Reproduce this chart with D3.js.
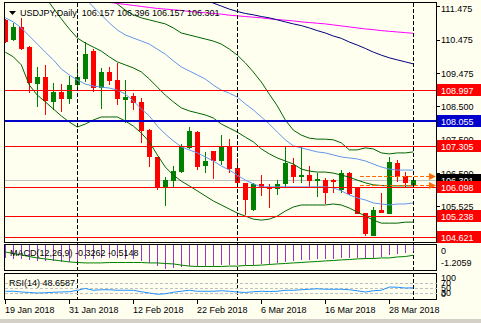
<!DOCTYPE html>
<html><head><meta charset="utf-8">
<script src="https://cdn.jsdelivr.net/npm/d3@7/dist/d3.min.js"></script>
<style>
body{margin:0;background:#FFFFF0;}
svg{display:block;font-family:"Liberation Sans",Arial,sans-serif;font-size:9px;}
</style>
</head><body>
<svg id="c" width="481" height="323"></svg>
<script>
// ---------- DATA ----------
const dates = ["2018-01-19","2018-01-22","2018-01-23","2018-01-24","2018-01-25","2018-01-26","2018-01-29","2018-01-30","2018-01-31","2018-02-01","2018-02-02","2018-02-05","2018-02-06","2018-02-07","2018-02-08","2018-02-09","2018-02-12","2018-02-13","2018-02-14","2018-02-15","2018-02-16","2018-02-19","2018-02-20","2018-02-21","2018-02-22","2018-02-23","2018-02-26","2018-02-27","2018-02-28","2018-03-01","2018-03-02","2018-03-05","2018-03-06","2018-03-07","2018-03-08","2018-03-09","2018-03-12","2018-03-13","2018-03-14","2018-03-15","2018-03-16","2018-03-19","2018-03-20","2018-03-21","2018-03-22","2018-03-23","2018-03-26","2018-03-27","2018-03-28","2018-03-29","2018-03-30","2018-04-02"];
const open  = [111.066,110.471,110.848,110.271,109.161,109.360,108.634,108.914,108.715,109.131,109.301,110.152,109.033,109.527,109.280,108.685,108.804,108.634,107.792,106.979,106.087,106.283,106.533,107.247,107.732,106.729,107.167,106.869,107.316,106.652,106.206,105.411,106.185,106.105,106.036,106.185,106.750,106.402,106.453,106.283,106.304,106.304,106.006,106.503,106.087,105.313,104.637,105.411,105.292,106.801,106.423,106.157];
const high  = [111.096,110.985,111.116,110.290,109.676,109.726,109.182,109.161,109.399,109.726,110.420,110.194,109.628,109.676,109.777,109.280,108.884,108.735,107.810,106.990,106.402,106.720,107.375,107.890,107.762,107.146,107.170,107.643,107.524,106.950,106.210,106.224,106.444,106.185,106.304,107.295,106.950,107.277,106.720,106.503,106.372,106.325,106.602,106.551,106.090,105.320,105.509,105.908,106.979,106.899,106.533,106.396];
const low   = [110.381,110.450,110.173,108.902,108.468,108.238,108.387,108.337,108.566,109.033,109.229,108.932,108.408,109.131,108.536,108.009,108.387,107.396,106.700,106.006,105.539,106.087,106.520,107.240,106.602,106.503,106.334,106.750,106.503,106.105,105.262,105.390,105.828,105.462,105.857,106.105,106.206,106.206,106.057,105.789,105.590,105.908,105.908,105.857,105.290,104.637,104.630,105.310,105.290,106.253,106.105,106.157];
const close = [110.420,110.866,110.194,109.182,109.360,108.664,108.914,108.715,109.131,109.360,110.054,109.033,109.527,109.259,108.706,108.765,108.604,107.771,106.979,106.075,106.304,106.572,107.316,107.762,106.700,106.869,106.869,107.316,106.631,106.206,105.709,106.185,106.087,106.045,106.185,106.801,106.402,106.453,106.274,106.342,105.926,106.253,106.503,105.887,105.292,104.697,105.411,105.313,106.849,106.402,106.224,106.301];

// Bollinger bands (dark green: middle, +-2 sd ; blue: +-1 sd)
const bbMid = [null,null,null,null,null,111.75,111.42,111.10,110.80,110.53,110.38,110.26,110.14,109.97,109.82,109.73,109.64,109.52,109.31,109.07,108.83,108.63,108.45,108.36,108.30,108.24,108.15,107.97,107.85,107.73,107.58,107.44,107.23,107.08,106.96,106.87,106.78,106.63,106.57,106.54,106.54,106.51,106.45,106.39,106.30,106.22,106.16,106.14,106.13,106.13,106.13,106.13];
const bbUp2 = [null,null,null,null,null,null,null,null,null,null,null,null,null,111.72,111.54,111.36,111.22,111.13,111.07,111.01,110.95,110.83,110.68,110.62,110.56,110.50,110.44,110.35,110.20,110.02,109.79,109.52,109.22,108.86,108.51,108.09,107.79,107.64,107.55,107.52,107.52,107.50,107.41,107.20,107.20,107.26,107.23,107.11,107.08,107.11,107.11,107.14];
const bbUp1 = [null,null,null,null,null,null,null,null,null,null,111.72,111.45,111.22,110.98,110.77,110.62,110.53,110.44,110.35,110.20,110.05,109.85,109.67,109.55,109.43,109.31,109.13,108.98,108.89,108.77,108.57,108.39,108.18,107.97,107.73,107.50,107.32,107.26,107.20,107.14,107.11,107.05,106.99,106.96,106.93,106.87,106.78,106.69,106.63,106.60,106.60,106.60];
const bbLo1 = [111.13,111.01,110.83,110.59,110.35,110.11,109.88,109.61,109.43,109.28,109.16,109.10,109.07,109.04,108.98,108.86,108.66,108.42,108.21,107.91,107.67,107.47,107.29,107.20,107.11,106.99,106.87,106.72,106.60,106.45,106.30,106.19,106.10,106.10,106.10,106.10,106.10,106.10,106.10,106.10,106.10,106.07,105.98,105.86,105.77,105.71,105.62,105.59,105.56,105.59,105.59,105.62];
const bbLo2 = [110.11,109.97,109.73,109.13,108.83,108.63,108.42,108.21,108.03,107.88,107.97,108.09,108.18,108.18,108.18,108.06,107.91,107.70,107.44,107.05,106.69,106.45,106.27,106.13,105.98,105.83,105.68,105.56,105.44,105.32,105.23,105.14,105.11,105.14,105.23,105.38,105.50,105.56,105.56,105.56,105.56,105.59,105.56,105.47,105.35,105.23,105.11,105.02,105.02,105.02,105.05,105.05];
// long moving averages (magenta, navy)
const maMagenta = [null,null,null,null,null,null,null,null,null,null,null,null,null,111.59,111.56,111.53,111.50,111.47,111.44,111.41,111.39,111.37,111.35,111.32,111.30,111.28,111.26,111.24,111.21,111.19,111.17,111.15,111.13,111.10,111.08,111.06,111.04,111.01,110.99,110.97,110.95,110.92,110.89,110.86,110.83,110.80,110.78,110.75,110.73,110.71,110.69,110.67];
const maNavy = [null,null,null,null,null,null,null,null,null,null,null,null,null,null,null,null,null,null,null,null,null,null,null,null,null,111.66,111.57,111.48,111.39,111.32,111.26,111.22,111.17,111.13,111.07,111.01,110.95,110.90,110.83,110.75,110.68,110.59,110.52,110.41,110.32,110.22,110.11,110.02,109.94,109.88,109.82,109.76];

// horizontal levels
const redLevels = [108.997,107.305,106.098,105.238,104.621];
const blueLevels = [108.055];
const currentPrice = 106.301;
const orangeLevels = [106.42,106.15];

// price axis tick labels
const priceTicks = [111.475,110.475,109.475,108.500,107.500,106.500,105.525,104.525];

// MACD
const macdMain = [-0.65,-0.70,-0.72,-0.75,-0.78,-0.80,-0.82,-0.85,-0.85,-0.80,-0.70,-0.70,-0.66,-0.65,-0.66,-0.68,-0.70,-0.78,-0.92,-1.08,-1.2059,-1.18,-1.12,-1.06,-1.05,-1.04,-1.04,-1.02,-1.00,-1.00,-1.02,-1.00,-0.96,-0.94,-0.90,-0.84,-0.80,-0.76,-0.74,-0.72,-0.72,-0.70,-0.65,-0.63,-0.64,-0.68,-0.64,-0.60,-0.52,-0.46,-0.40,-0.3262];
const macdSignal = [-0.35,-0.43,-0.50,-0.58,-0.65,-0.70,-0.75,-0.80,-0.85,-0.88,-0.90,-0.90,-0.90,-0.88,-0.88,-0.88,-0.88,-0.88,-0.90,-0.90,-0.93,-0.95,-1.01,-1.06,-1.08,-1.08,-1.08,-1.08,-1.06,-1.06,-1.03,-1.03,-1.01,-0.98,-0.95,-0.93,-0.90,-0.88,-0.85,-0.83,-0.80,-0.78,-0.75,-0.73,-0.70,-0.68,-0.68,-0.65,-0.65,-0.60,-0.58,-0.5148];
const macdTicks = [0,-1.2059];

// RSI
const rsi = [35,35,32,30,28,29,31,32,33,39,46,39,41,41,39,39,39,33,28,23,25,31,35,39,35,35,35,37,35,32,30,33,35,34,35,39,39,41,43,45,43,43,43,41,37,32,37,39,52,51,48,48.6587];
const rsiLevels = [70,50,30];
const rsiTicks = [100,70,50,30,0];

// x axis labels
const xTickIdx = [0,8,16,24,32,40,48];
const xTickLabels = ["19 Jan 2018","31 Jan 2018","12 Feb 2018","22 Feb 2018","6 Mar 2018","16 Mar 2018","28 Mar 2018"];

// ---------- DRAW ----------
const W = 481, H = 323;
const PL = 5, PR = 437;
const svg = d3.select("#c");
svg.append("rect").attr("width",W).attr("height",H).attr("fill","#FFFFF0");

const x = d3.scaleLinear().domain([0,51]).range([5.3,413.3]);
const y = d3.scaleLinear().domain([104.429,111.572]).range([243,3]);
const yM = d3.scaleLinear().domain([-1.2059,0]).range([269,245]);
const yR = d3.scaleLinear().domain([0,100]).range([300,275]);
const cx = i => Math.round(x(i));

const defs = svg.append("defs");
defs.append("clipPath").attr("id","mainClip").append("rect").attr("x",PL).attr("y",3).attr("width",PR-PL).attr("height",239);
defs.append("clipPath").attr("id","macdClip").append("rect").attr("x",PL).attr("y",245).attr("width",PR-PL).attr("height",25);
defs.append("clipPath").attr("id","rsiClip").append("rect").attr("x",PL).attr("y",274).attr("width",PR-PL).attr("height",25);

const main = svg.append("g").attr("clip-path","url(#mainClip)");

// current price line (background)
main.append("line").attr("x1",PL).attr("x2",PR).attr("y1",Math.round(y(currentPrice))+0.5).attr("y2",Math.round(y(currentPrice))+0.5)
  .attr("stroke","#C0C0C0").attr("stroke-width",1);

// period separators (first bar of each month)
const sepIdx = dates.map((d,i)=>i).filter(i=>i>0 && dates[i].slice(5,7)!==dates[i-1].slice(5,7));
svg.append("g").selectAll("line").data(sepIdx).join("line")
  .attr("x1",i=>cx(i)+0.5).attr("x2",i=>cx(i)+0.5).attr("y1",3).attr("y2",300)
  .attr("stroke","#000").attr("stroke-width",1).attr("stroke-dasharray","4,2");

// candles
const candles = main.append("g").attr("shape-rendering","crispEdges");
d3.range(dates.length).forEach(i=>{
  const up = close[i] >= open[i];
  const col = up ? "#008000" : "#FF0000";
  const c = cx(i);
  const yh = Math.round(y(high[i])), yl = Math.round(y(low[i]));
  candles.append("rect").attr("x",c).attr("y",yh).attr("width",1).attr("height",Math.max(1,yl-yh)).attr("fill",col);
  const yt = Math.round(y(Math.max(open[i],close[i]))), yb = Math.round(y(Math.min(open[i],close[i])));
  candles.append("rect").attr("x",c-2).attr("y",yt).attr("width",5).attr("height",Math.max(1,yb-yt)).attr("fill",col);
});

// indicator lines
const line = d3.line().defined(d=>d!=null).x((d,i)=>x(i)).y(d=>y(d));
const series = [
  {d:bbUp1,c:"#6495ED"},{d:bbLo1,c:"#6495ED"},
  {d:bbMid,c:"#006400"},{d:bbUp2,c:"#006400"},{d:bbLo2,c:"#006400"},
  {d:maMagenta,c:"#FF00FF"},{d:maNavy,c:"#000080"}
];
series.forEach(s=>{
  main.append("path").attr("d",line(s.d)).attr("fill","none").attr("stroke",s.c).attr("stroke-width",1);
});

// horizontal levels
main.selectAll(".rl").data(redLevels).join("line").attr("class","rl")
  .attr("x1",PL).attr("x2",PR).attr("y1",d=>Math.round(y(d))+0.5).attr("y2",d=>Math.round(y(d))+0.5)
  .attr("stroke","#FF0000").attr("stroke-width",1);
main.selectAll(".bl").data(blueLevels).join("line").attr("class","bl")
  .attr("x1",PL).attr("x2",PR).attr("y1",d=>Math.round(y(d))).attr("y2",d=>Math.round(y(d)))
  .attr("stroke","#0000CD").attr("stroke-width",2);

// orange dashed arrows
const og = main.append("g");
orangeLevels.forEach(v=>{
  const yy = Math.round(y(v))+0.5;
  og.append("line").attr("x1",360).attr("x2",430).attr("y1",yy).attr("y2",yy)
    .attr("stroke","#FF6A00").attr("stroke-width",1).attr("stroke-dasharray","4,2");
  og.append("path").attr("d",`M429,${yy-3.5}L436,${yy}L429,${yy+3.5}Z`).attr("fill","#FF6A00");
});

// panel frames
const frame = svg.append("g").attr("fill","none").attr("stroke","#000").attr("shape-rendering","crispEdges");
frame.append("rect").attr("x",4.5).attr("y",2.5).attr("width",432).attr("height",240);
frame.append("rect").attr("x",4.5).attr("y",244.5).attr("width",432).attr("height",26);
frame.append("rect").attr("x",4.5).attr("y",273.5).attr("width",432).attr("height",26);

// price axis labels
const ax = svg.append("g");
ax.selectAll("line").data(priceTicks).join("line")
  .attr("x1",437).attr("x2",440).attr("y1",d=>Math.round(y(d))+0.5).attr("y2",d=>Math.round(y(d))+0.5).attr("stroke","#000");
ax.selectAll("text").data(priceTicks).join("text")
  .attr("x",441).attr("y",d=>Math.max(12, y(d)+3.5)).attr("fill","#000").text(d=>d.toFixed(3));

// level boxes
const box = (v,fill)=>{
  const yy = Math.round(y(v));
  svg.append("rect").attr("x",437).attr("y",yy-6).attr("width",44).attr("height",12).attr("fill",fill);
  svg.append("text").attr("x",441).attr("y",yy+3.5).attr("fill","#fff").text(v.toFixed(3));
};
box(currentPrice,"#000");
blueLevels.forEach(v=>box(v,"#0000CD"));
redLevels.forEach(v=>box(v,"#FF0000"));

// title
svg.append("path").attr("d","M9,11L16,11L12.5,15Z").attr("fill","#000");
svg.append("text").attr("x",20).attr("y",16).attr("fill","#000").style("white-space","pre")
  .text("USDJPY,Daily  "+[open[51],high[51],low[51],close[51]].map(v=>v.toFixed(3)).join(" "));

// MACD panel
const mg = svg.append("g").attr("clip-path","url(#macdClip)");
mg.append("g").attr("shape-rendering","crispEdges").selectAll("rect").data(macdMain).join("rect")
  .attr("x",(d,i)=>cx(i)).attr("y",yM(0)).attr("width",1).attr("height",d=>yM(d)-yM(0)).attr("fill","#9932CC");
mg.append("path").attr("d",d3.line().x((d,i)=>x(i)).y(d=>yM(d))(macdSignal)).attr("fill","none").attr("stroke","#008000").attr("stroke-width",1);
svg.append("text").attr("x",10).attr("y",256).attr("fill","#000")
  .text(`MACD(12,26,9) ${macdMain[51].toFixed(4)} ${macdSignal[51].toFixed(4)}`);
svg.append("g").selectAll("text").data(macdTicks).join("text")
  .attr("x",441).attr("y",(d,i)=>i===0?254:266).attr("fill","#000").text(d=>d===0?"0":d.toFixed(4));

// RSI panel
const rg = svg.append("g").attr("clip-path","url(#rsiClip)");
rg.selectAll("line").data(rsiLevels).join("line")
  .attr("x1",PL).attr("x2",PR).attr("y1",d=>Math.round(yR(d))+0.5).attr("y2",d=>Math.round(yR(d))+0.5)
  .attr("stroke","#C0C0C0").attr("stroke-dasharray","3,2");
rg.append("path").attr("d",d3.line().x((d,i)=>x(i)).y(d=>yR(d))(rsi)).attr("fill","none").attr("stroke","#1E90FF").attr("stroke-width",1);
svg.append("text").attr("x",9).attr("y",286).attr("fill","#000").text(`RSI(14) ${rsi[51].toFixed(4)}`);
svg.append("g").selectAll("text").data(rsiTicks).join("text")
  .attr("x",441).attr("y",d=>Math.min(297, Math.max(281, yR(d)+3.5))).attr("fill","#000").text(d=>d);

// x axis
const xa = svg.append("g");
xa.selectAll("line").data(xTickIdx).join("line")
  .attr("x1",i=>cx(i)+0.5).attr("x2",i=>cx(i)+0.5).attr("y1",300).attr("y2",304).attr("stroke","#000");
xa.selectAll("text").data(xTickIdx).join("text")
  .attr("x",i=>cx(i)).attr("y",313).attr("fill","#000").text((d,k)=>xTickLabels[k]);

// window bottom strip
svg.append("rect").attr("x",0).attr("y",319).attr("width",W).attr("height",4).attr("fill","#D4D0C8");
</script>
</body></html>
